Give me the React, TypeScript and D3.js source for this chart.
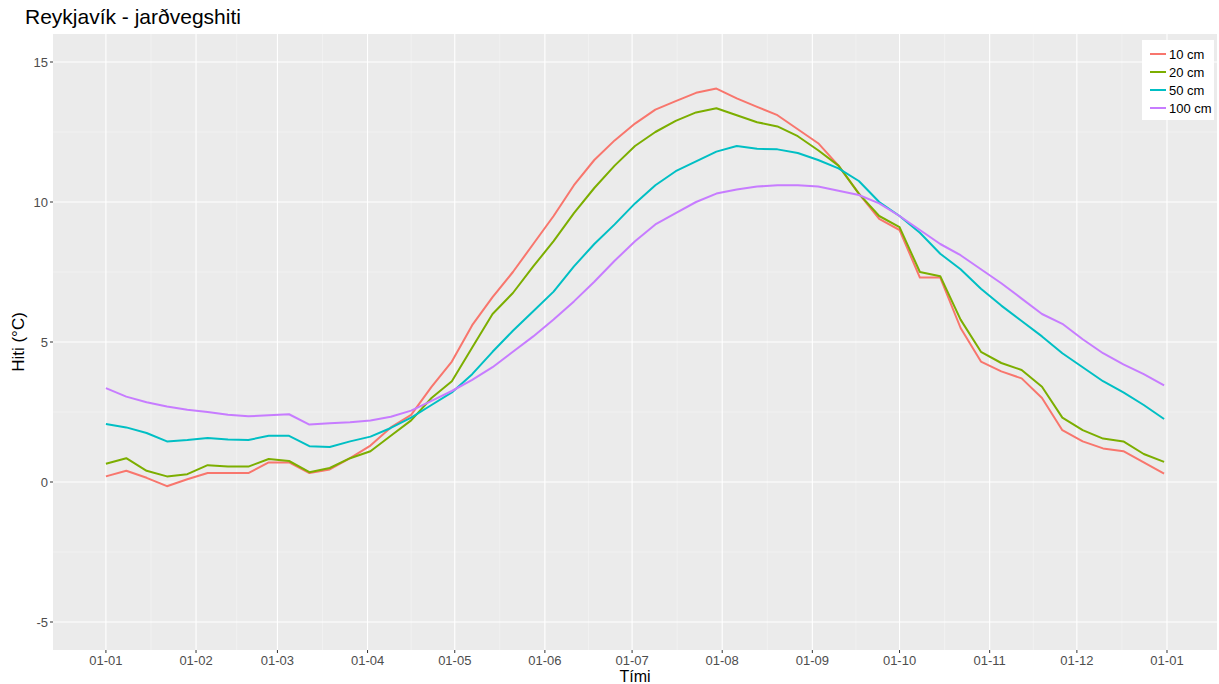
import React from "react";
import * as d3 from "d3";

const W = 1219;
const H = 684;

// Day of year (0 = 1 January), sampled weekly
const days = [0,7,14,21,28,35,42,49,56,63,70,77,84,91,98,105,112,119,126,133,140,147,154,161,168,175,182,189,196,203,210,217,224,231,238,245,252,259,266,273,280,287,294,301,308,315,322,329,336,343,350,357,364];

const cm10 = [0.2,0.4,0.15,-0.15,0.1,0.32,0.32,0.32,0.7,0.7,0.32,0.45,0.85,1.3,1.95,2.4,3.4,4.3,5.6,6.6,7.5,8.5,9.5,10.6,11.5,12.2,12.8,13.3,13.6,13.9,14.05,13.7,13.4,13.1,12.6,12.1,11.3,10.3,9.4,9.0,7.3,7.3,5.5,4.3,3.95,3.7,3.0,1.85,1.45,1.2,1.1,0.7,0.3];
const cm20 = [0.65,0.85,0.4,0.2,0.28,0.6,0.55,0.55,0.82,0.75,0.35,0.5,0.85,1.1,1.65,2.2,3.0,3.6,4.8,6.0,6.75,7.7,8.6,9.6,10.5,11.3,12.0,12.5,12.9,13.2,13.35,13.1,12.85,12.7,12.35,11.85,11.3,10.3,9.5,9.1,7.5,7.35,5.8,4.65,4.25,4.0,3.4,2.3,1.85,1.55,1.45,1.0,0.72];
const cm50 = [2.07,1.95,1.75,1.45,1.5,1.57,1.52,1.5,1.65,1.65,1.28,1.25,1.45,1.62,1.93,2.3,2.75,3.2,3.85,4.65,5.4,6.1,6.8,7.7,8.5,9.2,9.95,10.6,11.1,11.45,11.8,12.0,11.9,11.88,11.75,11.5,11.2,10.75,10.0,9.5,8.9,8.15,7.6,6.9,6.3,5.75,5.2,4.6,4.1,3.6,3.2,2.75,2.25];
const cm100 = [3.35,3.05,2.85,2.7,2.58,2.5,2.4,2.35,2.38,2.42,2.05,2.1,2.13,2.2,2.33,2.55,2.9,3.25,3.65,4.1,4.65,5.2,5.8,6.45,7.15,7.9,8.6,9.2,9.6,10.0,10.3,10.45,10.55,10.6,10.6,10.55,10.4,10.25,9.95,9.5,9.0,8.5,8.1,7.6,7.1,6.55,6.0,5.65,5.1,4.6,4.2,3.85,3.45];

const seriesNames = ["10 cm", "20 cm", "50 cm", "100 cm"];
const seriesValues = [cm10, cm20, cm50, cm100];
const seriesColors = ["#F8766D", "#7CAE00", "#00BFC4", "#C77CFF"];

const yTicks = [-5, 0, 5, 10, 15];
const xTickMonths = [0,1,2,3,4,5,6,7,8,9,10,11,12];
const xTickLabels = ["01-01","01-02","01-03","01-04","01-05","01-06","01-07","01-08","01-09","01-10","01-11","01-12","01-01"];

const title = "Reykjavík - jarðvegshiti";
const yTitle = "Hiti (°C)";
const xTitle = "Tími";

const FONT = "'Liberation Sans', Arial, Helvetica, sans-serif";

export default function App() {
  const panel = { left: 53, right: 1217, top: 34, bottom: 650 };
  const year = 2015;
  const t0 = new Date(year, 0, 1);
  const dateOf = (d: number) => d3.timeDay.offset(t0, d);
  const dataStart = dateOf(0);
  const dataEnd = dateOf(364);
  const span = dataEnd.getTime() - dataStart.getTime();
  const pad = span * 0.05;
  const x = d3
    .scaleTime()
    .domain([new Date(dataStart.getTime() - pad), new Date(dataEnd.getTime() + pad)])
    .range([panel.left, panel.right]);
  const y = d3.scaleLinear().domain([-6, 16]).range([panel.bottom, panel.top]);

  const tickDates = xTickMonths.map((m) => new Date(year, m, 1));
  const minorDates = tickDates.slice(0, -1).map((d, i) => new Date((d.getTime() + tickDates[i + 1].getTime()) / 2));
  const minorY = [-2.5, 2.5, 7.5, 12.5];

  const line = d3
    .line<number>()
    .x((_, i) => x(dateOf(days[i])))
    .y((v) => y(v))
    .curve(d3.curveLinear);

  const legendX = 1142;
  const legendY = 40;

  return (
    <svg width={W} height={H} style={{ position: "absolute", left: 0, top: 0, background: "#fff" }} fontFamily={FONT}>
      <rect x={panel.left} y={panel.top} width={panel.right - panel.left} height={panel.bottom - panel.top} fill="#EBEBEB" />
      <defs>
        <clipPath id="clip">
          <rect x={panel.left} y={panel.top} width={panel.right - panel.left} height={panel.bottom - panel.top} />
        </clipPath>
      </defs>
      {minorY.map((v) => (
        <line key={"my" + v} x1={panel.left} x2={panel.right} y1={y(v)} y2={y(v)} stroke="#F5F5F5" strokeWidth={0.6} />
      ))}
      {minorDates.map((d, i) => (
        <line key={"mx" + i} x1={x(d)} x2={x(d)} y1={panel.top} y2={panel.bottom} stroke="#F5F5F5" strokeWidth={0.6} />
      ))}
      {yTicks.map((v) => (
        <line key={"gy" + v} x1={panel.left} x2={panel.right} y1={y(v)} y2={y(v)} stroke="#FFFFFF" strokeWidth={1.1} />
      ))}
      {tickDates.map((d, i) => (
        <line key={"gx" + i} x1={x(d)} x2={x(d)} y1={panel.top} y2={panel.bottom} stroke="#FFFFFF" strokeWidth={1.1} />
      ))}
      <g clipPath="url(#clip)">
        {seriesValues.map((vals, si) => (
          <path key={seriesNames[si]} d={line(vals) || ""} fill="none" stroke={seriesColors[si]} strokeWidth={2} strokeLinejoin="round" />
        ))}
      </g>
      {yTicks.map((v) => (
        <g key={"yt" + v}>
          <line x1={panel.left - 3} x2={panel.left} y1={y(v)} y2={y(v)} stroke="#333" strokeWidth={1} />
          <text x={panel.left - 5} y={y(v)} dy="0.35em" textAnchor="end" fontSize={13} fill="#4D4D4D">
            {v}
          </text>
        </g>
      ))}
      {tickDates.map((d, i) => (
        <g key={"xt" + i}>
          <line x1={x(d)} x2={x(d)} y1={panel.bottom} y2={panel.bottom + 3} stroke="#333" strokeWidth={1} />
          <text x={x(d)} y={panel.bottom + 15} textAnchor="middle" fontSize={13} fill="#4D4D4D">
            {xTickLabels[i]}
          </text>
        </g>
      ))}
      <text x={25} y={24} fontSize={21} fill="#000">{title}</text>
      <text x={(panel.left + panel.right) / 2} y={682} textAnchor="middle" fontSize={16} fill="#000">{xTitle}</text>
      <text transform={`translate(24, ${(panel.top + panel.bottom) / 2}) rotate(-90)`} textAnchor="middle" fontSize={17} fill="#000">{yTitle}</text>
      <rect x={legendX} y={legendY} width={72} height={80} fill="#FFFFFF" />
      {seriesNames.map((n, i) => (
        <g key={"lg" + n}>
          <line x1={legendX + 8} x2={legendX + 24} y1={legendY + 14 + i * 18} y2={legendY + 14 + i * 18} stroke={seriesColors[i]} strokeWidth={2} />
          <text x={legendX + 27} y={legendY + 14 + i * 18} dy="0.35em" fontSize={13} fill="#000">{n}</text>
        </g>
      ))}
    </svg>
  );
}
